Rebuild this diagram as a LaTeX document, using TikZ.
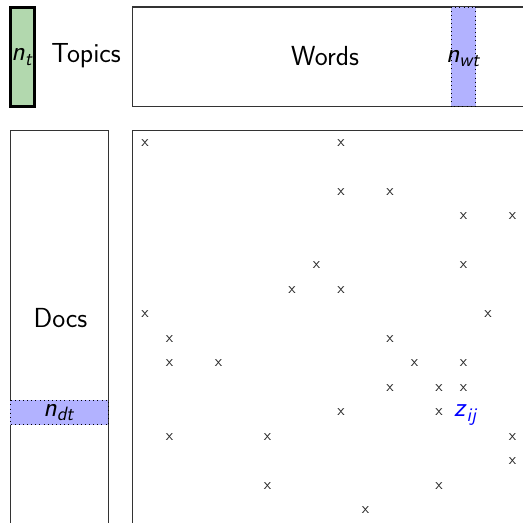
\documentclass[tikz,border=0pt]{standalone}
\usepackage{tikz}
\usetikzlibrary{positioning}
\renewcommand{\familydefault}{\sfdefault}
\definecolor{topicgreen}{RGB}{178,216,174}
\newcommand{\svar}[2]{\textit{#1}\textsubscript{\textit{#2}}}

\begin{document}
\begin{tikzpicture}[x=0.5cm, y=0.5cm,
            box/.style={draw=black!80, line width=0.8pt},
            bar/.style={fill=blue!30, draw=black, dotted, thin},
            lbl/.style={font=\fontsize{16}{19}\selectfont, inner sep=0pt},
            cross/.style={font=\small, inner sep=0pt, text=black!85}
        ]
        \clip (-5.418,-16.01) rectangle (15.929,5.337);

        % Topic vector
        \draw[fill=topicgreen, line width=1.7pt] (-5,1) rectangle (-4,5.05);
        \node[lbl] (nt) at (-4.5,3) {\svar{n}{t}};
        \node[lbl] (topics) at (-1.9,3.05) {Topics};

        % Word-topic counts
        \draw[box] (0,1) rectangle (17,5.05);
        \draw[bar] (13,1) rectangle (14,5.05);
        \node[lbl] (words) at (7.85,3.05) {Words};
        \node[lbl] (nwt) at (13.5,2.95) {\svar{n}{wt}};

        % Doc-topic counts
        \draw[box] (-5,0) rectangle (-1,-17);
        \draw[bar] (-5,-11) rectangle (-1,-12);
        \node[lbl] (docs) at (-2.95,-7.65) {Docs};
        \node[lbl] (ndt) at (-3,-11.5) {\svar{n}{dt}};

        % Assignment matrix
        \draw[box] (0,0) rectangle (17,-17);
        \foreach \i/\j in {0/0, 8/0, 8/2, 10/2, 13/3, 15/3, 7/5, 13/5, 6/6, 8/6,
                           0/7, 14/7, 1/8, 10/8, 1/9, 3/9, 11/9, 13/9, 10/10, 12/10,
                           13/10, 8/11, 12/11, 1/12, 5/12, 15/12, 15/13, 5/14, 12/14, 9/15}
            \node[cross] (c-\i-\j) at (\i+0.5,-\j-0.5) {x};
        \node[lbl, text=blue] (zij) at (13.6,-11.6) {\svar{z}{ij}};
    \end{tikzpicture}
\end{document}
